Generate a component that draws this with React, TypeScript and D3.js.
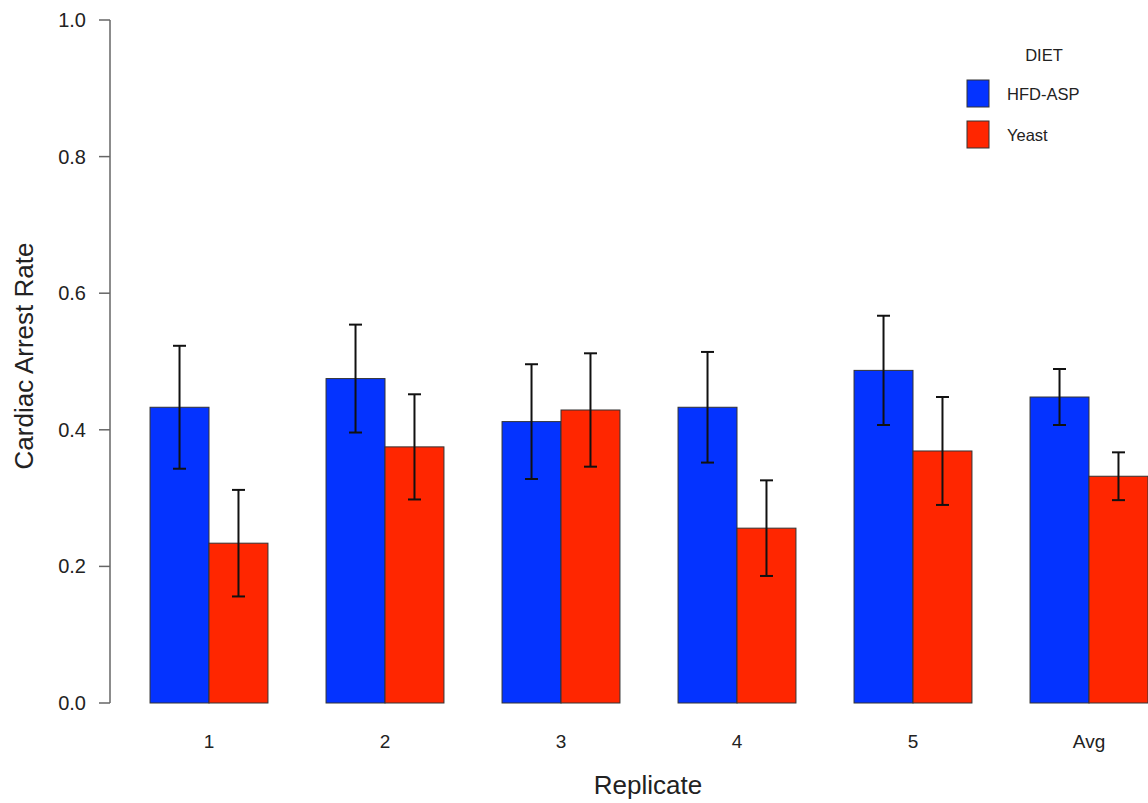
import React from "react";
import * as d3 from "d3";

const categories = ["1", "2", "3", "4", "5", "Avg"];
const seriesNames = ["HFD-ASP", "Yeast"];
const hfdValues = [0.433, 0.475, 0.412, 0.433, 0.487, 0.448];
const hfdErrors = [0.090, 0.079, 0.084, 0.081, 0.080, 0.041];
const yeastValues = [0.234, 0.375, 0.429, 0.256, 0.369, 0.332];
const yeastErrors = [0.078, 0.077, 0.083, 0.070, 0.079, 0.035];
const yTicks = [0, 0.2, 0.4, 0.6, 0.8, 1.0];
const colors = ["#0433FF", "#FF2600"];

const W = 1148;
const H = 803;
const FONT = "'Liberation Sans', Arial, Helvetica, sans-serif";

export default function App() {
  const y = d3.scaleLinear().domain([0, 1]).range([703, 20]);
  const x = d3
    .scaleBand<string>()
    .domain(categories)
    .range([121, 1177])
    .paddingInner(0.33)
    .paddingOuter(0.165);
  const xi = d3
    .scaleBand<string>()
    .domain(seriesNames)
    .range([0, x.bandwidth()])
    .padding(0);

  const series = [
    { name: seriesNames[0], values: hfdValues, errors: hfdErrors, color: colors[0] },
    { name: seriesNames[1], values: yeastValues, errors: yeastErrors, color: colors[1] },
  ];

  return (
    <svg
      width={W}
      height={H}
      style={{ position: "absolute", left: 0, top: 0, background: "#fff" }}
      fontFamily={FONT}
    >
      {/* bars */}
      {series.map((s) =>
        categories.map((c, i) => {
          const x0 = (x(c) ?? 0) + (xi(s.name) ?? 0);
          const bw = xi.bandwidth();
          return (
            <rect
              key={s.name + c}
              x={x0}
              y={y(s.values[i])}
              width={bw}
              height={y(0) - y(s.values[i])}
              fill={s.color}
              stroke="#333"
              strokeWidth={1}
            />
          );
        })
      )}
      {/* error bars */}
      {series.map((s) =>
        categories.map((c, i) => {
          const cx = (x(c) ?? 0) + (xi(s.name) ?? 0) + xi.bandwidth() / 2;
          const hi = y(s.values[i] + s.errors[i]);
          const lo = y(s.values[i] - s.errors[i]);
          return (
            <g key={"e" + s.name + c} stroke="#111" strokeWidth={2}>
              <line x1={cx} x2={cx} y1={hi} y2={lo} />
              <line x1={cx - 6.5} x2={cx + 6.5} y1={hi} y2={hi} />
              <line x1={cx - 6.5} x2={cx + 6.5} y1={lo} y2={lo} />
            </g>
          );
        })
      )}
      {/* y axis */}
      <line x1={110} x2={110} y1={y(1)} y2={y(0)} stroke="#666" strokeWidth={1.5} />
      {yTicks.map((t) => (
        <g key={t}>
          <line x1={99} x2={110} y1={y(t)} y2={y(t)} stroke="#666" strokeWidth={1.5} />
          <text
            x={86}
            y={y(t)}
            textAnchor="end"
            dominantBaseline="central"
            fontSize={20}
            fill="#222"
          >
            {d3.format(".1f")(t)}
          </text>
        </g>
      ))}
      {/* x labels */}
      {categories.map((c) => (
        <text
          key={"xl" + c}
          x={(x(c) ?? 0) + x.bandwidth() / 2}
          y={741}
          textAnchor="middle"
          dominantBaseline="central"
          fontSize={19}
          fill="#222"
        >
          {c}
        </text>
      ))}
      {/* axis titles */}
      <text x={648} y={785} textAnchor="middle" dominantBaseline="central" fontSize={26} fill="#222">
        Replicate
      </text>
      <text
        transform={`translate(24, 356) rotate(-90)`}
        textAnchor="middle"
        dominantBaseline="central"
        fontSize={26}
        fill="#222"
      >
        Cardiac Arrest Rate
      </text>
      {/* legend */}
      <text x={1044} y={55} textAnchor="middle" dominantBaseline="central" fontSize={16.5} fill="#222">
        DIET
      </text>
      {series.map((s, i) => (
        <g key={"lg" + s.name}>
          <rect
            x={967}
            y={80 + i * 41}
            width={22}
            height={27}
            fill={s.color}
            stroke="#333"
            strokeWidth={1}
          />
          <text
            x={1007}
            y={94 + i * 41}
            dominantBaseline="central"
            fontSize={16.5}
            fill="#222"
          >
            {s.name}
          </text>
        </g>
      ))}
    </svg>
  );
}
